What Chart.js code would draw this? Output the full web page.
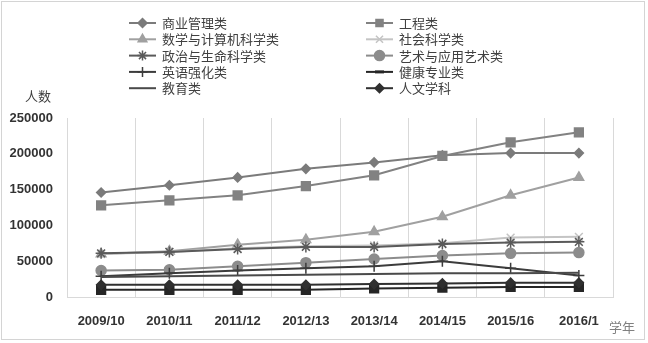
<!DOCTYPE html>
<html>
<head>
<meta charset="utf-8">
<script src="https://cdn.jsdelivr.net/npm/chart.js@4.4.0/dist/chart.umd.min.js"></script>
<style>
  html, body { margin: 0; padding: 0; background: #fff; }
  #wrap { width: 648px; height: 343px; }
</style>
</head>
<body>
<div id="wrap"><canvas id="majors" width="648" height="343"></canvas></div>
<script>
// academic years (last label is cut off in the source)
var years = ['2009/10', '2010/11', '2011/12', '2012/13', '2013/14', '2014/15', '2015/16', '2016/1'];

// enrolments per major
var business    = [146000, 156000, 167000, 179000, 188000, 198000, 201000, 201000];
var engineering = [128000, 135000, 142000, 155000, 170000, 197000, 216000, 230000];
var mathCs      = [60000, 64000, 73000, 80000, 91000, 112000, 142000, 167000];
var social      = [60000, 63000, 68000, 71000, 72000, 75000, 83000, 84000];
var politics    = [61000, 63000, 67000, 70000, 70000, 74000, 76000, 77000];
var arts        = [37000, 38000, 43000, 48000, 53000, 58000, 61000, 62000];
var english     = [29000, 33000, 37000, 40000, 43000, 50000, 40000, 30000];
var health      = [10000, 10000, 10000, 10000, 12000, 13000, 14000, 14000];
var education   = [28000, 29000, 30000, 31000, 32000, 33000, 33000, 34000];
var humanities  = [17000, 17000, 17000, 17000, 18000, 19000, 20000, 20000];

var yTicks = [0, 50000, 100000, 150000, 200000, 250000];

function series(label, data, color, style, radius, legendMark) {
  return {
    label: label,
    data: data,
    borderColor: color,
    backgroundColor: color,
    pointBackgroundColor: color,
    pointBorderColor: color,
    pointStyle: style,
    pointRadius: radius,
    pointBorderWidth: 1.5,
    borderWidth: 2,
    tension: 0,
    legendMark: legendMark
  };
}

var datasets = [
  series('商业管理类', business, '#7b7b7b', 'rectRot', 4.5),
  series('工程类', engineering, '#828282', 'rect', 6.2),
  series('数学与计算机科学类', mathCs, '#a0a0a0', 'triangle', 5.5),
  series('社会科学类', social, '#c4c4c4', 'crossRot', 5.5),
  series('政治与生命科学类', politics, '#5a5a5a', 'star', 5.5),
  series('艺术与应用艺术类', arts, '#8c8c8c', 'circle', 5),
  series('英语强化类', english, '#3c3c3c', 'cross', 5.5),
  series('健康专业类', health, '#262626', 'rect', 6.2, 'dash'),
  series('教育类', education, '#4a4a4a', 'circle', 0),
  series('人文学科', humanities, '#303030', 'rectRot', 4.5)
];
datasets.forEach(function (d, i) { d.order = -i; });

var decor = {
  id: 'decor',
  afterDraw: function (chart) {
    var ctx = chart.ctx;
    ctx.save();
    ctx.strokeStyle = '#d4d4d4';
    ctx.lineWidth = 1;
    ctx.strokeRect(1.5, 1.5, 643, 338);

    ctx.font = '13px "Noto Sans CJK SC"';
    ctx.textBaseline = 'middle';
    chart.data.datasets.forEach(function (ds, i) {
      var x = (i % 2) ? 366 : 129;
      var y = 23 + Math.floor(i / 2) * 16.3;
      ctx.strokeStyle = ds.borderColor;
      ctx.fillStyle = ds.borderColor;
      ctx.lineWidth = 2;
      ctx.beginPath();
      ctx.moveTo(x, y);
      ctx.lineTo(x + 27, y);
      ctx.stroke();
      if (ds.legendMark === 'dash') {
        ctx.fillRect(x + 9, y - 1.5, 9, 3);
      } else if (ds.pointRadius > 0) {
        ctx.lineWidth = 1.5;
        Chart.helpers.drawPoint(ctx, {
          pointStyle: ds.pointStyle,
          radius: Math.min(ds.pointRadius, 5),
          rotation: 0,
          borderWidth: 1.5
        }, x + 13.5, y);
      }
      ctx.fillStyle = '#404040';
      ctx.fillText(ds.label, x + 33, y);
    });

    ctx.fillStyle = '#404040';
    ctx.fillText('人数', 25, 96);
    ctx.fillStyle = '#808080';
    ctx.fillText('学年', 609, 327);
    ctx.restore();
  }
};

var ctx = document.getElementById('majors').getContext('2d');
var chart = new Chart(ctx, {
  type: 'line',
  data: { labels: years, datasets: datasets },
  options: {
    responsive: false,
    animation: false,
    layout: { padding: { left: 0, right: 35, top: 118, bottom: 0 } },
    plugins: {
      legend: { display: false },
      tooltip: { enabled: false }
    },
    scales: {
      x: {
        offset: true,
        grid: { offset: true, color: '#d9d9d9', drawTicks: false },
        border: { color: '#d9d9d9' },
        ticks: {
          padding: 17,
          color: '#333',
          maxRotation: 0,
          autoSkip: false,
          font: { family: 'Liberation Sans', size: 13, weight: 'bold' }
        },
        afterFit: function (s) { s.height = 46; }
      },
      y: {
        min: 0,
        max: 250000,
        afterBuildTicks: function (s) { s.ticks = yTicks.map(function (v) { return { value: v }; }); },
        grid: { display: false, drawTicks: false },
        border: { display: false },
        ticks: {
          padding: 14,
          color: '#333',
          font: { family: 'Liberation Sans', size: 13, weight: 'bold' },
          callback: function (v) { return String(v); }
        },
        afterFit: function (s) { s.width = 67; }
      }
    }
  },
  plugins: [decor]
});
</script>
</body>
</html>
